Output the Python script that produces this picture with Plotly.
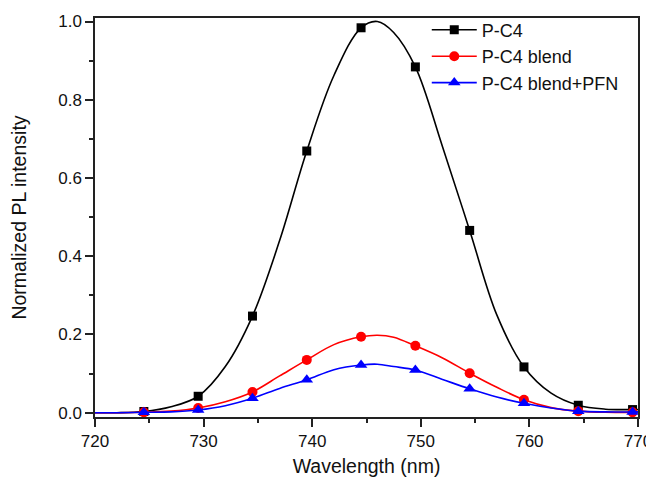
import plotly.graph_objects as go

FONT = "Liberation Sans, Arial, sans-serif"

# Measured marker points (every 5 nm)
marker_wl = [724.5, 729.5, 734.5, 739.5, 744.5, 749.5, 754.5, 759.5, 764.5, 769.5]
pc4_pts = [0.003, 0.042, 0.247, 0.669, 0.984, 0.884, 0.466, 0.117, 0.019, 0.008]
blend_pts = [0.001, 0.012, 0.053, 0.135, 0.194, 0.171, 0.101, 0.033, 0.004, 0.001]
pfn_pts = [0.001, 0.007, 0.037, 0.084, 0.122, 0.109, 0.061, 0.024, 0.004, 0.002]

# Smooth curve (denser sampling of the drawn line)
line_wl = [720, 722, 724.5, 727, 729.5, 732, 734.5, 737, 739.5, 742, 744.5, 746,
           747.5, 749.5, 752, 754.5, 757, 759.5, 762, 764.5, 767, 769.5, 770]
pc4_line = [0.000, 0.000, 0.003, 0.015, 0.042, 0.118, 0.247, 0.440, 0.669, 0.862, 0.984, 1.000,
            0.972, 0.884, 0.680, 0.466, 0.250, 0.117, 0.050, 0.019, 0.009, 0.008, 0.008]
blend_line = [0.000, 0.000, 0.001, 0.004, 0.012, 0.028, 0.053, 0.094, 0.135, 0.174, 0.194, 0.198,
              0.193, 0.171, 0.140, 0.101, 0.065, 0.033, 0.013, 0.004, 0.001, 0.001, 0.001]
pfn_line = [0.000, 0.000, 0.001, 0.002, 0.007, 0.018, 0.037, 0.062, 0.084, 0.110, 0.122, 0.124,
            0.118, 0.109, 0.085, 0.061, 0.040, 0.024, 0.012, 0.004, 0.002, 0.002, 0.002]

series_names = ["P-C4", "P-C4 blend", "P-C4 blend+PFN"]
x_ticks = [720, 730, 740, 750, 760, 770]
y_ticks = [0.0, 0.2, 0.4, 0.6, 0.8, 1.0]

fig = go.Figure()
styles = [
    (pc4_line, pc4_pts, "#000000", "square", 9),
    (blend_line, blend_pts, "#ff0000", "circle", 10),
    (pfn_line, pfn_pts, "#0000ff", "triangle-up", 11),
]
for name, (lvals, pvals, color, sym, size) in zip(series_names, styles):
    fig.add_trace(go.Scatter(
        x=line_wl, y=lvals, mode="lines", showlegend=False, hoverinfo="skip",
        line=dict(color=color, width=1.6, shape="spline", smoothing=1.0),
    ))
    fig.add_trace(go.Scatter(
        x=marker_wl, y=pvals, mode="markers", showlegend=False, name=name,
        marker=dict(symbol=sym, size=size, color=color),
    ))
    fig.add_trace(go.Scatter(
        x=[None], y=[None], mode="lines+markers", name=name,
        line=dict(color=color, width=1.6),
        marker=dict(symbol=sym, size=size, color=color),
    ))

axis_common = dict(
    showline=True, linecolor="#222222", linewidth=1.5, mirror=True,
    ticks="outside", ticklen=8, tickwidth=1.5, tickcolor="#222222",
    showgrid=False, zeroline=False, automargin=False,
    tickfont=dict(family=FONT, size=17, color="#111111"),
)

fig.update_xaxes(
    range=[720, 770], tickvals=x_ticks, ticktext=[str(v) for v in x_ticks],
    title=dict(text="Wavelength (nm)", font=dict(family=FONT, size=19.5, color="#111111"), standoff=14),
    minor=dict(ticks="outside", ticklen=4, tickwidth=1.5, tickcolor="#222222", dtick=5, tick0=720),
    **axis_common,
)
fig.update_yaxes(
    range=[-0.011, 1.009], tickvals=y_ticks, ticktext=[f"{v:.1f}" for v in y_ticks],
    title=dict(text="Normalized PL intensity", font=dict(family=FONT, size=19.5, color="#111111"), standoff=26),
    minor=dict(ticks="outside", ticklen=4, tickwidth=1.5, tickcolor="#222222", dtick=0.1, tick0=0),
    **axis_common,
)

# The page body has an 8px margin, so the figure is sized to end at the window edge.
fig.update_layout(
    width=646, height=469,
    margin=dict(l=87, r=16, t=10, b=60, autoexpand=False),
    paper_bgcolor="white", plot_bgcolor="white",
    legend=dict(x=0.611, y=1.016, xanchor="left", yanchor="top", itemwidth=45,
                bgcolor="rgba(0,0,0,0)", tracegroupgap=0,
                font=dict(family=FONT, size=18, color="#111111")),
    showlegend=True,
)

fig.write_html("out.html")
